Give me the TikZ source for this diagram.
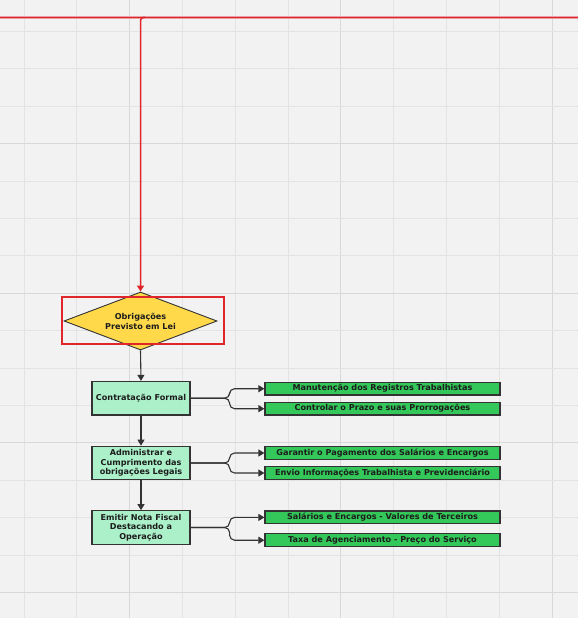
\documentclass[tikz,border=0pt]{standalone}
\usepackage{fontspec}
\setmainfont{DejaVu Sans}
\usetikzlibrary{shapes.geometric,arrows.meta}
\definecolor{bgc}{HTML}{F2F2F2}
\definecolor{gridc}{HTML}{E3E3E3}
\definecolor{gridm}{HTML}{D8D8D8}
\definecolor{redc}{HTML}{E0262B}
\definecolor{pinkc}{HTML}{E8A0A2}
\definecolor{linec}{HTML}{333333}
\definecolor{yellowc}{HTML}{FFD94A}
\definecolor{mintc}{HTML}{ABF0C9}
\definecolor{greenc}{HTML}{34C759}
\definecolor{textc}{HTML}{1C1C1C}
\tikzset{
  stepbox/.style={draw=linec, line width=1.2pt, fill=mintc, minimum width=98pt, minimum height=33.5pt, inner sep=0pt, align=center, text=textc, font=\fontsize{8.1}{9.6}\selectfont\bfseries},
  greenbox/.style={draw=linec, line width=1.2pt, fill=greenc, minimum width=235pt, minimum height=12.7pt, inner sep=0pt, text=textc, font=\fontsize{8.1}{9.6}\selectfont\bfseries},
  decision/.style={diamond, draw=linec, line width=0.9pt, fill=yellowc, minimum width=153pt, minimum height=58pt, inner sep=0pt, aspect=2.6, align=center, text=textc, font=\fontsize{8.1}{10}\selectfont\bfseries},
  conn/.style={draw=linec, line width=1.1pt, -{Triangle[length=6pt,width=7pt]}},
  brace/.style={draw=linec, line width=1.1pt, rounded corners=5pt, -{Triangle[length=6pt,width=7pt]}},
}
\begin{document}
\begin{tikzpicture}[x=1pt,y=-1pt]
\useasboundingbox (0,0) rectangle (578,618);
\fill[bgc] (0,0) rectangle (578,618);
% grid
\foreach \k in {0,...,10} {
  \pgfmathsetmacro{\gx}{24+52.8*\k}
  \draw[gridc, line width=0.9pt] (\gx,0) -- (\gx,618);
}
\foreach \k in {2,6,10} {
  \pgfmathsetmacro{\gx}{24+52.8*\k}
  \draw[gridm, line width=0.9pt] (\gx,0) -- (\gx,618);
}
\foreach \k in {0,...,15} {
  \pgfmathsetmacro{\gy}{31.5+37.4*\k}
  \draw[gridc, line width=0.9pt] (0,\gy) -- (578,\gy);
}
\foreach \k in {3,7,11,15} {
  \pgfmathsetmacro{\gy}{31.5+37.4*\k}
  \draw[gridm, line width=0.9pt] (0,\gy) -- (578,\gy);
}
% nodes
\node[decision] (dec) at (140.5,321) {Obrigações\\Previsto em Lei};
\node[draw=redc, line width=2pt, minimum width=162pt, minimum height=47pt, inner sep=0pt] (sel) at (143,320) {};
\node[stepbox] (b1) at (141,398.2) {Contratação Formal};
\node[stepbox] (b2) at (141,463) {Administrar e\\Cumprimento das\\obrigações Legais};
\node[stepbox] (b3) at (141,527.5) {Emitir Nota Fiscal\\Destacando a\\Operação};
\node[greenbox] (g1a) at (382.5,388.7) {Manutenção dos Registros Trabalhistas};
\node[greenbox] (g1b) at (382.5,408.7) {Controlar o Prazo e suas Prorrogações};
\node[greenbox] (g2a) at (382.5,453) {Garantir o Pagamento dos Salários e Encargos};
\node[greenbox] (g2b) at (382.5,473) {Envio Informações Trabalhista e Previdenciário};
\node[greenbox] (g3a) at (382.5,517.4) {Salários e Encargos - Valores de Terceiros};
\node[greenbox] (g3b) at (382.5,540.2) {Taxa de Agenciamento - Preço do Serviço};
% red incoming line
\coordinate (tj) at (140.5,17.5);
\fill[pinkc] (0,15.8) rectangle (578,19.2);
\fill[redc] (0,16.6) rectangle (578,18.4);
\draw[redc, line width=1.5pt, rounded corners=3pt, -{Triangle[length=6pt,width=7pt]}] (145,17.5) -- (tj) -- (dec.north);
% vertical connectors
\draw[conn] (dec.south) -- (b1.north);
\draw[conn] (b1.south) -- (b2.north);
\draw[conn] (b2.south) -- (b3.north);
% brace connectors
\foreach \b/\ga/\gb in {b1/g1a/g1b, b2/g2a/g2b, b3/g3a/g3b} {
  \coordinate (j) at ([xshift=39pt]\b.east);
  \draw[brace] (\b.east) -- (j) |- (\ga.west);
  \draw[brace] (\b.east) -- (j) |- (\gb.west);
}
\end{tikzpicture}
\end{document}
